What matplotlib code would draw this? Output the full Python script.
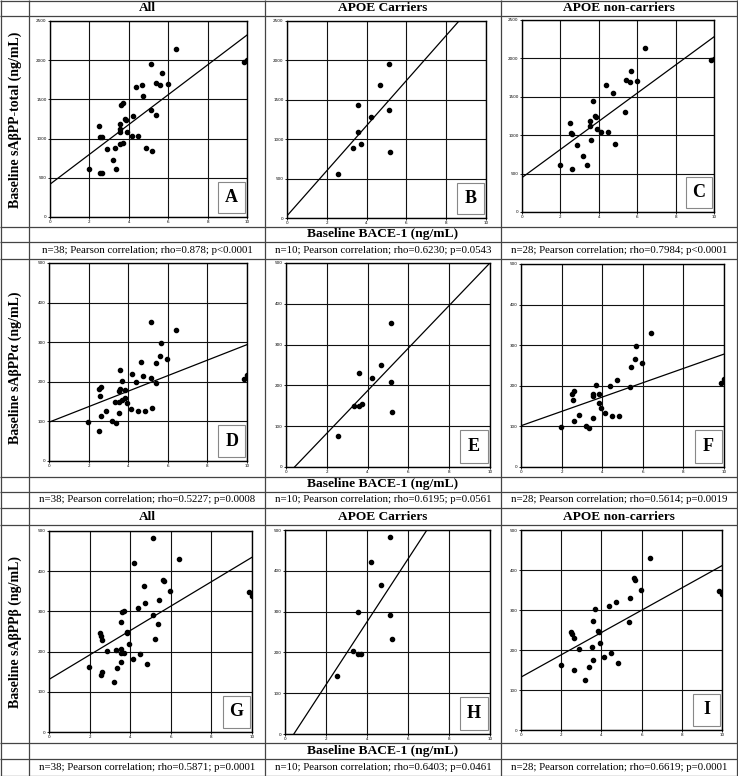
import matplotlib
matplotlib.use("Agg")
import matplotlib.pyplot as plt
import numpy as np
from matplotlib.patches import Rectangle

# BACE-1 (ng/mL) and outcomes, APOE carriers (n=10)
car_bace = [2.54, 3.31, 3.56, 3.58, 3.71, 4.21, 4.67, 5.13, 5.13, 5.20]
car_total = [556, 885, 1088, 1429, 940, 1282, 1682, 1948, 1366, 843]
car_alpha = [75, 150, 150, 230, 154, 219, 251, 352, 209, 134]
car_beta = [143, 203, 197, 299, 196, 421, 364, 483, 291, 232]

# APOE non-carriers (n=28)
nc_bace = [1.97, 2.50, 2.56, 2.62, 2.63, 2.88, 3.18, 3.37, 3.53, 3.56, 3.57, 3.70, 3.82, 3.86,
           3.92, 4.14, 4.39, 4.47, 4.74, 4.85, 5.38, 5.40, 5.60, 5.67, 5.97, 6.42, 9.86, 9.98]
nc_total = [616, 1155, 1025, 1020, 556, 872, 729, 616, 1185, 1120, 933, 1450, 1256, 1241,
            1081, 1037, 1654, 1037, 1547, 885, 1302, 1714, 1690, 1832, 1701, 2140, 1979, 1997]
nc_alpha = [98, 181, 164, 187, 113, 127, 100, 95, 176, 120, 181, 202, 158, 179,
            146, 132, 199, 126, 215, 126, 197, 247, 266, 297, 257, 331, 207, 216]
nc_beta = [162, 246, 239, 229, 150, 202, 125, 158, 207, 175, 273, 302, 248, 246,
           218, 182, 309, 193, 321, 168, 269, 329, 379, 375, 350, 431, 348, 339]

col_titles = ["All", "APOE Carriers", "APOE non-carriers"]
row_labels = ["Baseline sAβPP-total (ng/mL)", "Baseline sAβPPα (ng/mL)", "Baseline sAβPPβ (ng/mL)"]
xlabel = "Baseline BACE-1 (ng/mL)"
stats = [
    ["n=38; Pearson correlation; rho=0.878; p<0.0001",
     "n=10; Pearson correlation; rho=0.6230; p=0.0543",
     "n=28; Pearson correlation; rho=0.7984; p<0.0001"],
    ["n=38; Pearson correlation; rho=0.5227; p=0.0008",
     "n=10; Pearson correlation; rho=0.6195; p=0.0561",
     "n=28; Pearson correlation; rho=0.5614; p=0.0019"],
    ["n=38; Pearson correlation; rho=0.5871; p=0.0001",
     "n=10; Pearson correlation; rho=0.6403; p=0.0461",
     "n=28; Pearson correlation; rho=0.6619; p=0.0001"],
]
letters = ["ABC", "DEF", "GHI"]
ymaxes = [2500, 500, 500]

W, H = 738, 776
plt.rcParams["font.family"] = ["Liberation Serif", "DejaVu Serif"]
fig = plt.figure(figsize=(W / 100, H / 100), dpi=100)

bg = fig.add_axes([0, 0, 1, 1])
bg.set_xlim(0, W)
bg.set_ylim(H, 0)
bg.axis("off")

# table grid (pixel coords)
hl = [0.5, 16, 227, 242, 259, 477, 492, 508, 525, 743, 759, 775.5]
vl = [0.5, 29, 265, 501, 737]
bg.hlines(hl, 0, W, color="#444", lw=0.9)
bg.vlines(vl, 0, H, color="#444", lw=0.9)

col_c = [147, 383, 619]
for yy in (8, 516.5):
    for c, t in zip(col_c, col_titles):
        bg.text(c, yy, t, ha="center", va="center", fontsize=9.6, fontweight="bold")
for yy in (234.5, 484.5, 751):
    bg.text(383, yy, xlabel, ha="center", va="center", fontsize=9.7, fontweight="bold")
for yy, row in zip((250.5, 500, 767.5), stats):
    for c, t in zip(col_c, row):
        bg.text(c, yy, t, ha="center", va="center", fontsize=7.8)
for yy, t in zip((120, 368, 632), row_labels):
    bg.text(15, yy, t, ha="center", va="center", rotation=90, fontsize=10, fontweight="bold")

boxes = [
    [(50, 21, 247, 217), (287, 21, 486, 218), (522, 20, 714, 212)],
    [(49, 263, 247, 461), (286, 263, 490, 467), (521, 264, 724, 467)],
    [(49, 531, 252, 732), (285, 530, 490, 734), (521, 530, 722, 730)],
]
ys = [(car_total, nc_total), (car_alpha, nc_alpha), (car_beta, nc_beta)]

for r in range(3):
    yc, yn = ys[r]
    groups = [(car_bace + nc_bace, yc + yn), (car_bace, yc), (nc_bace, yn)]
    for c in range(3):
        x0, y0, x1, y1 = boxes[r][c]
        ax = fig.add_axes([x0 / W, 1 - y1 / H, (x1 - x0) / W, (y1 - y0) / H])
        xs, yv = np.array(groups[c][0]), np.array(groups[c][1])
        ymax = ymaxes[r]
        ax.set_xlim(0, 10)
        ax.set_ylim(0, ymax)
        ax.set_xticks(range(0, 11, 2))
        ax.set_yticks(range(0, ymax + 1, ymax // 5))
        ax.grid(True, color="#111", lw=0.8)
        ax.set_axisbelow(True)
        ax.plot(xs, yv, "o", color="black", ms=3, zorder=3)
        slope, icpt = np.polyfit(xs, yv, 1)
        xx = np.array([0, 10])
        ax.plot(xx, icpt + slope * xx, color="black", lw=0.9, zorder=3)
        ax.tick_params(labelsize=3, length=1.5, width=0.6, pad=1)
        for lbl in ax.get_xticklabels() + ax.get_yticklabels():
            lbl.set_family("DejaVu Sans")
        for s in ax.spines.values():
            s.set_linewidth(1)
        ax.add_patch(Rectangle((0.855, 0.02), 0.135, 0.16, transform=ax.transAxes,
                               facecolor="white", edgecolor="#888", lw=0.8, zorder=4))
        ax.text(0.9225, 0.10, letters[r][c], transform=ax.transAxes, ha="center",
                va="center", fontsize=13, fontweight="bold", zorder=5)

fig.savefig("out.png", dpi=100)
